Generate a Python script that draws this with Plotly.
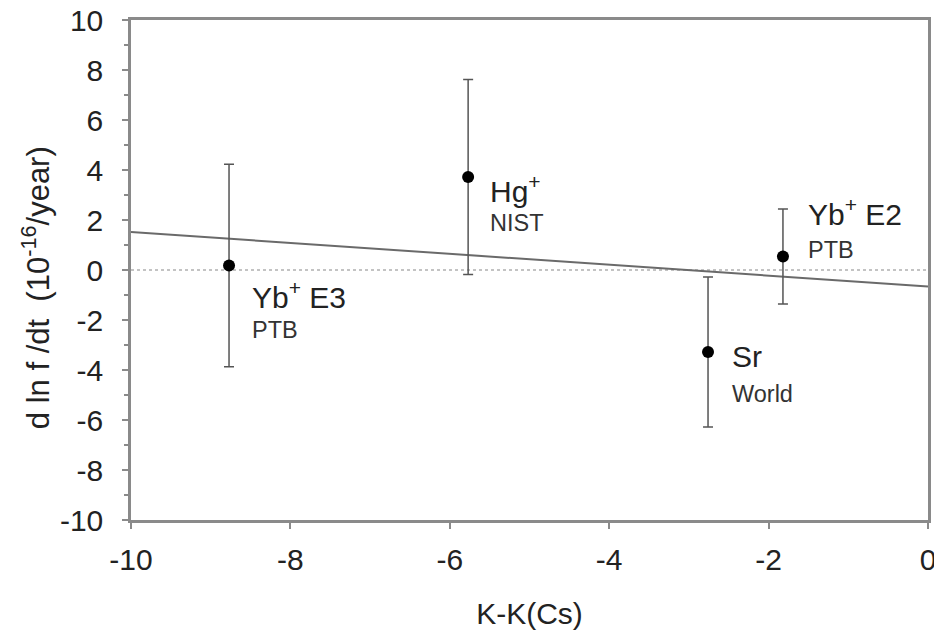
import plotly.graph_objects as go

# Data
clock_names = ["Yb<sup>+</sup> E3", "Hg<sup>+</sup>", "Sr", "Yb<sup>+</sup> E2"]
lab_names = ["PTB", "NIST", "World", "PTB"]
k_diff = [-8.77, -5.77, -2.76, -1.82]
drift = [0.18, 3.72, -3.28, 0.54]
drift_err = [4.05, 3.9, 3.0, 1.9]
fit_x = [-10, 0]
fit_y = [1.52, -0.66]
zero_x = [-10, 0]
zero_y = [0, 0]
x_ticks = [-10, -8, -6, -4, -2, 0]
y_ticks = list(range(-10, 11, 2))

# label positions (data coords)
label_x = [-8.51, -5.52, -2.48, -1.53]
label_y = [-1.0, 3.25, -3.46, 2.33]
sub_y = [-2.38, 1.88, -4.94, 0.82]

FONT = "Liberation Sans, Arial, sans-serif"

fig = go.Figure()
fig.add_trace(go.Scatter(x=zero_x, y=zero_y, mode="lines",
                         line=dict(color="#b0b0b0", width=1.5, dash="dot"),
                         showlegend=False, hoverinfo="skip"))
fig.add_trace(go.Scatter(x=fit_x, y=fit_y, mode="lines",
                         line=dict(color="#6a6a6a", width=2),
                         showlegend=False))
fig.add_trace(go.Scatter(x=k_diff, y=drift, mode="markers",
                         marker=dict(color="black", size=12),
                         error_y=dict(type="data", array=drift_err, visible=True,
                                      color="#555555", thickness=1.5, width=5),
                         showlegend=False))

for i in range(len(clock_names)):
    fig.add_annotation(x=label_x[i], y=label_y[i], text=clock_names[i],
                       showarrow=False, xanchor="left", yanchor="middle",
                       font=dict(family=FONT, size=30, color="#222222"))
    fig.add_annotation(x=label_x[i], y=sub_y[i], text=lab_names[i],
                       showarrow=False, xanchor="left", yanchor="middle",
                       font=dict(family=FONT, size=23.5, color="#333333"))

# y-axis title
fig.add_annotation(xref="paper", yref="paper", x=-0.119, y=0.464,
                   text="d ln f /dt  (10<sup>-16</sup>/year)", textangle=-90,
                   showarrow=False, xanchor="center", yanchor="middle",
                   font=dict(family=FONT, size=31, color="#222222"))

axis_common = dict(showline=True, linecolor="#8a8a8a", linewidth=2.5, mirror=True,
                   showgrid=False, zeroline=False, ticks="outside", tickcolor="#8a8a8a",
                   tickwidth=2, ticklen=6, automargin=False, ticklabeloverflow="allow",
                   tickfont=dict(family=FONT, size=30, color="#222222"))

fig.update_xaxes(range=[-10, 0], tickvals=x_ticks,
                 ticktext=[str(v) for v in x_ticks],
                 ticklabelstandoff=5,
                 title=dict(text="K-K(Cs)", font=dict(family=FONT, size=30, color="#222222"),
                            standoff=29),
                 **axis_common)
fig.update_yaxes(range=[-10, 10], tickvals=y_ticks,
                 ticktext=[str(v) for v in y_ticks],
                 minor=dict(ticks="outside", tickvals=list(range(-9, 10, 2)),
                            ticklen=4, tickcolor="#8a8a8a", tickwidth=2),
                 ticklabelstandoff=13,
                 **axis_common)

fig.update_layout(width=934, height=637, plot_bgcolor="white", paper_bgcolor="white",
                  margin=dict(l=131, r=6, t=20, b=117))

fig.write_html("out.html")
